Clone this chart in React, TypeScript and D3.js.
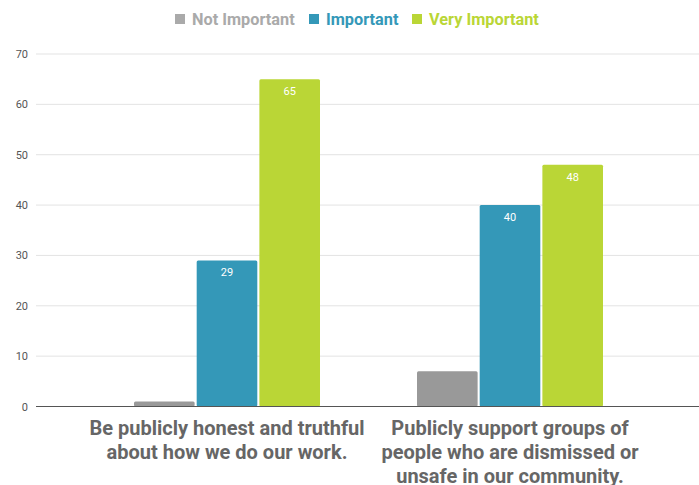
import * as d3 from 'd3';

const categories = [
    ['Be publicly honest and truthful', 'about how we do our work.'],
    ['Publicly support groups of', 'people who are dismissed or', 'unsafe in our community.'],
];
const seriesNames = ['Not Important', 'Important', 'Very Important'];
const seriesColors = ['#999999', '#3498b8', '#bad636'];
const legendColors = ['#aaaaaa', '#3498b8', '#bad636'];
const values = [
    [1, 29, 65],
    [7, 40, 48],
];
const yTicks = [0, 10, 20, 30, 40, 50, 60, 70];

export default function App() {
    const width = 699;
    const height = 485;
    const gridLeft = 36;
    const gridRight = 699;

    const y = d3.scaleLinear().domain([0, 70]).range([406.5, 54]);
    const x0 = d3.scaleBand<number>()
        .domain(categories.map((_, i) => i))
        .range([85.5, 651.5])
        .paddingInner(0)
        .paddingOuter(0);
    const groupW = 186;
    const x1 = d3.scaleBand<number>()
        .domain(seriesNames.map((_, i) => i))
        .range([0, groupW])
        .paddingInner(0.033);

    const legendX = [175, 309, 412];

    return (
        <svg width={width} height={height} style={{ position: 'absolute', left: 0, top: 0 }}
            fontFamily="Roboto, sans-serif">
            {/* Legend */}
            {seriesNames.map((s, i) => (
                <g key={s} transform={`translate(${legendX[i]},19)`}>
                    <rect x={0} y={-5} width={10} height={10} fill={legendColors[i]} />
                    <text x={17} y={6} fontSize={16.3} fontWeight="bold" fill={legendColors[i]}>{s}</text>
                </g>
            ))}

            {/* Grid */}
            {yTicks.map(t => (
                <g key={t}>
                    {t > 0 && (
                        <line x1={gridLeft} x2={gridRight} y1={y(t)} y2={y(t)} stroke="#e3e3e3" strokeWidth={1} />
                    )}
                    <text x={28} y={y(t) + 4} fontSize={11} fill="#555" textAnchor="end">{t}</text>
                </g>
            ))}

            {/* Bars */}
            {values.map((row, ci) => {
                const gx = (x0(ci) as number) + x0.bandwidth() / 2 - groupW / 2;
                return (
                    <g key={ci} transform={`translate(${gx},0)`}>
                        {row.map((v, si) => {
                            const bx = x1(si) as number;
                            const by = y(v);
                            const bh = y(0) - by;
                            return (
                                <g key={si}>
                                    <rect x={bx} y={by} width={x1.bandwidth()} height={bh}
                                        rx={1.5} fill={seriesColors[si]} />
                                    {si > 0 && (
                                        <text x={bx + x1.bandwidth() / 2} y={by + 16} fontSize={11}
                                            fill="#fff" textAnchor="middle">{v}</text>
                                    )}
                                </g>
                            );
                        })}
                    </g>
                );
            })}

            {/* Baseline */}
            <line x1={gridLeft} x2={gridRight} y1={y(0)} y2={y(0)} stroke="#555" strokeWidth={1} />

            {/* Category labels */}
            {categories.map((lines, ci) => {
                const cx = (x0(ci) as number) + x0.bandwidth() / 2;
                return (
                    <text key={ci} x={cx} textAnchor="middle" fontSize={20} fontWeight="bold" fill="#666">
                        {lines.map((l, li) => (
                        <tspan key={li} x={cx} y={435 + li * 24}>{l}</tspan>
                        ))}
                    </text>
                );
            })}
        </svg>
    );
}
